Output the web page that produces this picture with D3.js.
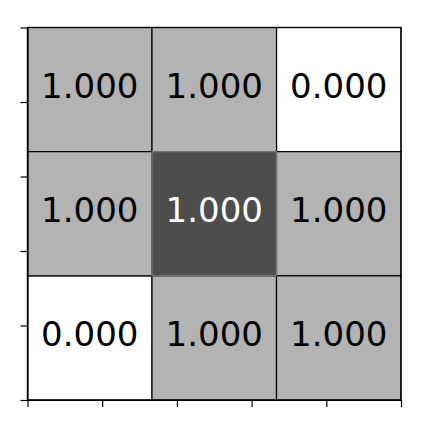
<!DOCTYPE html>
<html><head><meta charset="utf-8">
<script src="https://cdn.jsdelivr.net/npm/d3@7"></script>
<style>html,body{margin:0;padding:0;background:#fff;}svg{display:block;}</style>
</head><body>
<div id="chart"></div>
<script>
const rows = [0, 1, 2];
const cols = [0, 1, 2];
const values = [
  [1.000, 1.000, 0.000],
  [1.000, 1.000, 1.000],
  [0.000, 1.000, 1.000]
];
const shade = [
  [1, 1, 0],
  [1, 2, 1],
  [0, 1, 1]
];
const tickValues = [0, 0.6, 1.2, 1.8, 2.4, 3.0];

const W = 426, H = 425;
const m = {left: 27.5, top: 27.5, right: 25, bottom: 25};
const svg = d3.select("#chart").append("svg").attr("width", W).attr("height", H);

const x = d3.scaleLinear().domain([0, 3]).range([m.left, W - m.right]);
const y = d3.scaleLinear().domain([0, 3]).range([m.top, H - m.bottom]);
const color = d3.scaleOrdinal().domain([0, 1, 2]).range(["#ffffff", "#b3b3b3", "#4d4d4d"]);
const edge = d3.scaleOrdinal().domain([0, 1, 2]).range(["#000", "#000", "#7a7a7a"]);
const textColor = d3.scaleOrdinal().domain([0, 1, 2]).range(["#000", "#000", "#fff"]);

const cells = [];
rows.forEach(r => cols.forEach(c => cells.push({r, c, v: values[r][c], s: shade[r][c]})));
cells.sort((a, b) => a.s - b.s);

const g = svg.append("g");
g.selectAll("rect").data(cells).join("rect")
  .attr("x", d => x(d.c)).attr("y", d => y(d.r))
  .attr("width", d => x(d.c + 1) - x(d.c)).attr("height", d => y(d.r + 1) - y(d.r))
  .attr("fill", d => color(d.s))
  .attr("stroke", d => edge(d.s)).attr("stroke-width", 1.2);

g.selectAll("text").data(cells).join("text")
  .attr("x", d => (x(d.c) + x(d.c + 1)) / 2)
  .attr("y", d => (y(d.r) + y(d.r + 1)) / 2 + 8.5)
  .attr("text-anchor", "middle")
  .attr("font-family", "DejaVu Sans")
  .attr("font-size", 34)
  .attr("fill", d => textColor(d.s))
  .text(d => d3.format(".3f")(d.v));

// frame
svg.append("rect").attr("x", m.left).attr("y", m.top)
  .attr("width", x(3) - x(0)).attr("height", y(3) - y(0))
  .attr("fill", "none").attr("stroke", "#000").attr("stroke-width", 1.2);

const xAxis = svg.append("g").attr("transform", `translate(0,${y(3)})`)
  .call(d3.axisBottom(x).tickValues(tickValues).tickFormat("").tickSize(7).tickSizeOuter(0));
const yAxis = svg.append("g").attr("transform", `translate(${x(0)},0)`)
  .call(d3.axisLeft(y).tickValues(tickValues).tickFormat("").tickSize(7).tickSizeOuter(0));
[xAxis, yAxis].forEach(a => {
  a.select(".domain").attr("stroke", "#000").attr("stroke-width", 1.2);
  a.selectAll(".tick line").attr("stroke", "#000").attr("stroke-width", 1.2);
});
</script>
</body></html>
